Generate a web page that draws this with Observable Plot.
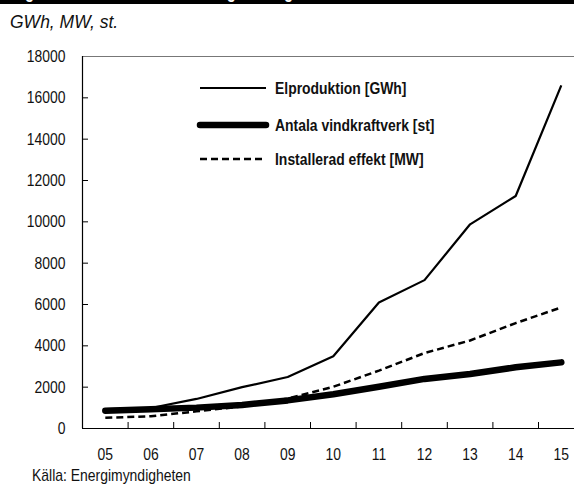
<!DOCTYPE html>
<html><head><meta charset="utf-8">
<script src="https://cdn.jsdelivr.net/npm/d3@7"></script>
<script src="https://cdn.jsdelivr.net/npm/@observablehq/plot@0.6"></script>
<style>
body{margin:0;background:#fff;width:574px;height:486px;overflow:hidden;position:relative;font-family:"Liberation Sans",Arial,sans-serif;color:#111;}
#title{position:absolute;left:0;top:0;width:574px;height:4px;background:#000;overflow:hidden;}
#title span{position:absolute;left:12px;top:-17px;color:#fff;font:bold 18px/18px "Liberation Sans",sans-serif;white-space:nowrap;display:inline-block;transform:scaleX(0.82);transform-origin:0 50%;}
#subtitle{position:absolute;left:10px;top:14px;font:italic 17.5px/17px "Liberation Sans",sans-serif;color:#111;}
#chart{position:absolute;left:0;top:36px;}
#caption{position:absolute;left:32px;top:467px;font-size:17px;line-height:17px;color:#111;display:inline-block;white-space:nowrap;transform:scaleX(0.82);transform-origin:0 50%;}
#legend{position:absolute;left:0;top:0;pointer-events:none;}
</style></head>
<body>
<div id="title"><span>Figur 5. Vindkraftens utveckling i Sverige 2005–2015</span></div>
<div id="subtitle">GWh, MW, st.</div>
<div id="chart"></div>
<div id="caption">Källa: Energimyndigheten</div>
<svg id="legend" width="574" height="486"></svg>
<script>
// ---- data ----
const years = [5, 6, 7, 8, 9, 10, 11, 12, 13, 14, 15];
const yearLabels = ["05", "06", "07", "08", "09", "10", "11", "12", "13", "14", "15"];
const elproduktion = [940, 990, 1430, 2000, 2490, 3500, 6100, 7180, 9880, 11250, 16600];
const vindkraftverk = [860, 930, 1010, 1140, 1360, 1660, 2020, 2400, 2640, 2960, 3200];
const installeradEffekt = [520, 590, 830, 1070, 1450, 2020, 2800, 3650, 4260, 5100, 5860];
const yTicks = [0, 2000, 4000, 6000, 8000, 10000, 12000, 14000, 16000, 18000];
const seriesNames = ["Elproduktion [GWh]", "Antala vindkraftverk [st]", "Installerad effekt [MW]"];

// ---- styles per series ----
const styles = [
  {strokeWidth: 2.2, dash: null, cap: "butt"},
  {strokeWidth: 6.5, dash: null, cap: "round"},
  {strokeWidth: 2.5, dash: "7,4", cap: "butt"}
];
const seriesValues = [elproduktion, vindkraftverk, installeradEffekt];
const rows = years.map((y, i) => ({year: y, label: yearLabels[i]}));
const boundaries = years.slice(1).map(y => y - 0.5);

const FONT = '"Liberation Sans",Arial,sans-serif';
const W = 574, H = 420, ML = 82, MT = 20, MB = 28;

const marks = [
  Plot.ruleY([18000], {stroke: "#777", strokeWidth: 1}),
  Plot.tickY(yTicks.slice(1, -1), {y: d => d, stroke: "#000", insetRight: W - ML - 6}),
  Plot.tickX(boundaries, {x: d => d, stroke: "#000", insetTop: H - MT - MB - 6}),
  Plot.ruleY([0], {stroke: "#000", strokeWidth: 1.2}),
  Plot.ruleX([years[0] - 0.5], {stroke: "#000", strokeWidth: 1.2}),
  Plot.axisY({ticks: yTicks, tickSize: 0, tickPadding: 17, tickFormat: d => String(d), label: null}),
  Plot.axisX({ticks: years, tickSize: 0, tickPadding: 19, tickFormat: d => yearLabels[years.indexOf(d)], label: null})
];
seriesValues.forEach((vals, s) => {
  marks.push(Plot.lineY(rows, {
    x: "year",
    y: (d, i) => vals[i],
    stroke: "#000",
    strokeWidth: styles[s].strokeWidth,
    strokeDasharray: styles[s].dash,
    strokeLinecap: styles[s].cap,
    strokeLinejoin: "round"
  }));
});

const chart = Plot.plot({
  width: W,
  height: H,
  marginLeft: ML,
  marginRight: 0,
  marginTop: MT,
  marginBottom: MB,
  style: {fontFamily: FONT, fontSize: "17px", color: "#111", background: "transparent", overflow: "visible"},
  x: {type: "linear", domain: [4.5, 15.5], range: [82, 583.6], axis: null},
  y: {domain: [0, 18000], axis: null},
  marks
});
document.getElementById("chart").appendChild(chart);

// condense text horizontally (narrow grotesque look): scale about the anchor point
function condense(t) {
  let tx = 0, ty = 0;
  const tr = t.getAttribute("transform");
  if (tr) {
    const m = /translate\(\s*([-\d.e]+)[,\s]+([-\d.e]+)\s*\)/.exec(tr);
    if (m) { tx = +m[1]; ty = +m[2]; }
  }
  const xa = parseFloat(t.getAttribute("x"));
  if (isFinite(xa)) { tx += xa; t.setAttribute("x", 0); }
  t.setAttribute("transform", `translate(${tx},${ty}) scale(0.82,1)`);
}
chart.querySelectorAll("text").forEach(condense);

// ---- legend (SVG overlay) ----
const lg = d3.select("#legend");
const legendY = [88, 125, 159];
seriesNames.forEach((name, s) => {
  lg.append("line")
    .attr("x1", 200).attr("x2", 266)
    .attr("y1", legendY[s]).attr("y2", legendY[s])
    .attr("stroke", "#000")
    .attr("stroke-width", styles[s].strokeWidth)
    .attr("stroke-linecap", styles[s].cap)
    .attr("stroke-dasharray", styles[s].dash);
  const t = lg.append("text")
    .attr("x", 275).attr("y", legendY[s] + 6)
    .attr("font-family", FONT).attr("font-weight", "bold").attr("font-size", 17)
    .attr("fill", "#111")
    .text(name);
  condense(t.node());
});
</script>
</body></html>
